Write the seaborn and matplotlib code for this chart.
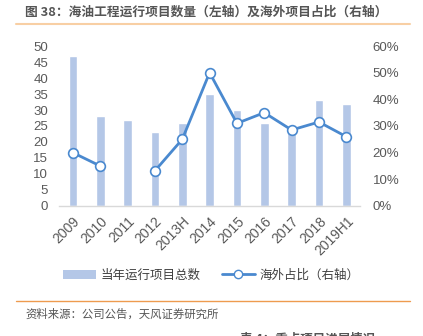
import numpy as np
import pandas as pd
import matplotlib
matplotlib.use("Agg")
import matplotlib.pyplot as plt
import seaborn as sns
from matplotlib.lines import Line2D
from matplotlib.patches import Patch

categories = ["2009", "2010", "2011", "2012", "2013H", "2014", "2015", "2016", "2017", "2018", "2019H1"]
project_counts = [47, 28, 27, 23, 26, 35, 30, 26, 24, 33, 32]
overseas_share = [20, 15, np.nan, 13.2, 25, 50, 31, 35, 28.5, 31.5, 26]
left_ticks = [0, 5, 10, 15, 20, 25, 30, 35, 40, 45, 50]
right_ticks = [0, 10, 20, 30, 40, 50, 60]

title = "图 38：海油工程运行项目数量（左轴）及海外项目占比（右轴）"
bar_label = "当年运行项目总数"
line_label = "海外占比（右轴）"
source = "资料来源：公司公告，天风证券研究所"
next_title = "表 4：重点项目进展情况"

sns.set_theme(style="white")
plt.rcParams['font.family'] = ['Liberation Sans', 'Noto Sans CJK SC', 'DejaVu Sans']
cjk = ['Noto Sans CJK SC', 'DejaVu Sans']

bar_color = "#B4C7E7"
line_color = "#4A89CF"
tick_color = "#595959"

fig = plt.figure(figsize=(4.23, 3.36), dpi=100)
ax = fig.add_axes([0.14, 0.387, 0.711, 0.476])

df = pd.DataFrame({"cat": categories, "count": project_counts})
sns.barplot(data=df, x="cat", y="count", color=bar_color, width=0.32,
            saturation=1, ax=ax, order=categories)
ax.set_ylim(0, 50)
ax.set_xlim(-0.5, len(categories) - 0.5)
ax.set_yticks(left_ticks)
ax.set_xlabel("")
ax.set_ylabel("")
for s in ["top", "right", "left"]:
    ax.spines[s].set_visible(False)
ax.spines["bottom"].set_color("#D9D9D9")
ax.spines["bottom"].set_linewidth(1)
ax.tick_params(axis="y", length=0, labelsize=9.5, colors=tick_color, pad=8)
ax.tick_params(axis="x", length=0, labelsize=10, colors=tick_color, pad=6)
plt.setp(ax.get_xticklabels(), rotation=45, ha="right", rotation_mode="anchor")

ax2 = ax.twinx()
seg = np.cumsum(pd.isna(overseas_share))
ldf = pd.DataFrame({"pos": np.arange(len(categories)), "share": overseas_share, "seg": seg}).dropna()
sns.lineplot(data=ldf, x="pos", y="share", units="seg", estimator=None, ax=ax2,
             color=line_color, linewidth=2, marker="o", markersize=7,
             markerfacecolor="white", markeredgecolor=line_color, markeredgewidth=1.2,
             zorder=5)
ax2.set_ylim(0, 60)
ax2.set_xlim(-0.5, len(categories) - 0.5)
ax2.set_yticks(right_ticks)
ax2.set_yticklabels([f"{t}%" for t in right_ticks])
ax2.set_xlabel("")
ax2.set_ylabel("")
for s in ["top", "right", "left", "bottom"]:
    ax2.spines[s].set_visible(False)
ax2.tick_params(axis="y", length=0, labelsize=9.5, colors=tick_color, pad=9)

# Title and decorations
fig.text(25 / 423, 1 - 12 / 336, title, fontsize=9.2, fontweight="bold",
         color="#555555", family=cjk, va="center", ha="left")
fig.add_artist(Line2D([16 / 423, 410 / 423], [1 - 24 / 336] * 2, color="#F8CFA4", lw=1.5))
fig.add_artist(Line2D([16 / 423, 410 / 423], [1 - 301 / 336] * 2, color="#EE9B4F", lw=1.0))
fig.text(25 / 423, 1 - 314 / 336, source, fontsize=8.2, color="#555555",
         family=cjk, va="center", ha="left")
fig.text(240 / 423, 1 - 339 / 336, next_title, fontsize=9, color="#555555",
         family=cjk, va="center", ha="left", fontweight="bold")

handles = [Patch(facecolor=bar_color, edgecolor="none"),
           Line2D([0], [0], color=line_color, lw=2, marker="o", markersize=6,
                  markerfacecolor="white", markeredgecolor=line_color)]
fig.legend(handles, [bar_label, line_label], loc="center", ncol=2,
           bbox_to_anchor=(0.5, 1 - 275 / 336), frameon=False,
           prop={"family": cjk, "size": 9}, labelcolor="#404040",
           handlelength=2.6, columnspacing=1.7, handletextpad=0.4)

fig.savefig("out.png", dpi=100)
